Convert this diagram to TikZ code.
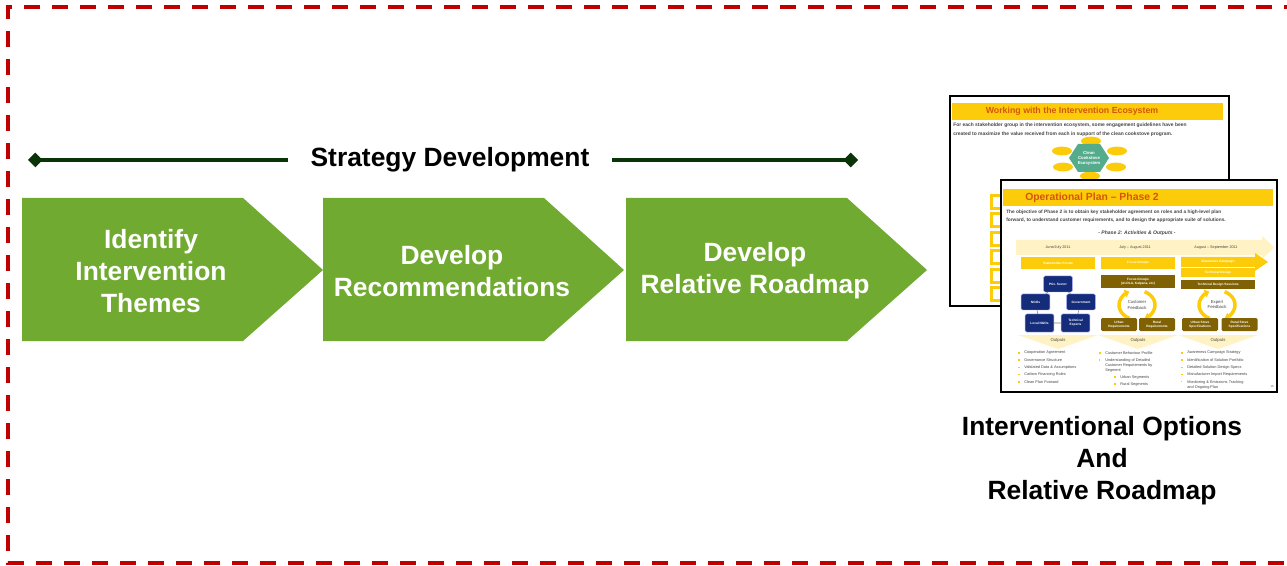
\documentclass[tikz,border=0pt]{standalone}
\usepackage{fontspec}
\setmainfont{Liberation Sans}
\usetikzlibrary{arrows.meta}
\definecolor{framered}{RGB}{192,0,0}
\definecolor{leafgreen}{RGB}{112,170,48}
\definecolor{darkline}{RGB}{8,52,8}
\definecolor{slideyellow}{RGB}{252,204,10}
\definecolor{paleyellow}{RGB}{255,242,196}
\definecolor{titleorange}{RGB}{214,84,10}
\definecolor{olivebox}{RGB}{128,98,4}
\definecolor{navybox}{RGB}{20,44,122}
\definecolor{ecoteal}{RGB}{84,172,140}
\definecolor{slidetext}{RGB}{70,70,70}
\begin{document}
\begin{tikzpicture}[x=0.75pt,y=-0.75pt,line join=miter]
	\tikzset{
		bigtext/.style={font=\bfseries\fontsize{19.8}{24}\selectfont,align=center},
		timeline/.style={darkline,line width=2.4pt,-{Diamond[length=11pt,width=11pt]}},
		stepshape/.style={fill=leafgreen},
		steptext/.style={bigtext,text=white},
		slideframe/.style={fill=white,draw=black,line width=1.5pt},
		slidebody/.style={font=\bfseries\fontsize{3.6}{6}\selectfont,text=slidetext,align=left,inner sep=0pt},
		tinytext/.style={font=\fontsize{2.8}{3.6}\selectfont,text=slidetext,inner sep=0pt,align=center},
		boxlabel/.style={font=\bfseries\fontsize{2.4}{2.9}\selectfont,text=white,align=center,inner sep=0pt},
		ybox/.style={boxlabel,fill=slideyellow,minimum width=55.5pt,minimum height=9pt},
		obox/.style={boxlabel,fill=olivebox,minimum width=55.5pt,minimum height=7pt},
		reqbox/.style={boxlabel,fill=olivebox,rounded corners=1pt,minimum width=27pt,minimum height=9.75pt},
		navy/.style={boxlabel,fill=navybox,draw=blue!35!white,line width=0.3pt,rounded corners=1pt,minimum width=21.5pt,minimum height=12pt},
		loop/.style={slideyellow,line width=2.6pt,-{Triangle[length=3.5pt,width=6pt]}},
		bulletsq/.style={fill=slideyellow,inner sep=0pt,minimum size=1.3pt},
		bul/.style={tinytext,font=\fontsize{2.9}{3.6}\selectfont,anchor=west,align=left,label={[bulletsq,label distance=3pt]left:}},
	}
	\useasboundingbox (0,0) rectangle (1287,566);
	% dashed frame, open to the right
	\draw[framered,line width=3pt,dash pattern=on 12pt off 9pt] (1300,7) -- (8,7) -- (8,563) -- (1300,563);
	
	% strategy development bar
	\node[bigtext,inner xsep=17pt] (sd) at (450,160) {Strategy Development};
	\coordinate (sdl) at (28,160);
	\coordinate (sdr) at (858,160);
	\draw[timeline] (sd.west) -- (sdl);
	\draw[timeline] (sd.east) -- (sdr);
	
	% the three steps
	\foreach \x/\name/\txt in {22/identify/{Identify\\Intervention\\Themes},323/recomm/{Develop\\Recommendations},626/roadmap/{Develop\\Relative Roadmap}}{
		\fill[stepshape] (\x,198) -- ++(221,0) -- ++(80,72) -- ++(-80,71) -- ++(-221,0) -- cycle;
		\node[steptext] (\name) at (\x+129,271) {\txt};
	}
	
	% back slide
	\filldraw[slideframe] (950,96) rectangle (1229,306);
	\fill[slideyellow] (952,103) rectangle (1223,120);
	\node[font=\bfseries\fontsize{6.6}{7}\selectfont,text=titleorange,inner sep=0pt] (wtitle) at (1072,111.5) {Working with the Intervention Ecosystem};
	\node[slidebody,font=\bfseries\fontsize{3.7}{6.75}\selectfont,anchor=west] (wbody) at (953,129.5) {For each stakeholder group in the intervention ecosystem, some engagement guidelines have been\\created to maximize the value received from each in support of the clean cookstove program.};
	\foreach \ex/\ey in {1091/141,1117/151,1116/167,1090/176,1063/167,1062/151}
		\fill[slideyellow] (\ex,\ey) ellipse [x radius=7.5pt,y radius=3.3pt];
	\fill[ecoteal] (1069,158) -- (1078,144) -- (1100,144) -- (1109,158) -- (1100,172) -- (1078,172) -- cycle;
	\node[boxlabel,font=\bfseries\fontsize{3.2}{3.8}\selectfont] (eco) at (1089,158) {Clean\\Cookstove\\Ecosystem};
	\foreach \sy in {194,212.5,231,249.5,268,286.5}{
		\fill[slideyellow] (990,\sy) rectangle (1004,\sy+16);
		\fill[white] (993,\sy+3) rectangle (1004,\sy+13);
	}
	
	% front slide
	\filldraw[slideframe] (1001,180) rectangle (1277,392);
	\fill[slideyellow] (1003,189) rectangle (1273,206);
	\node[font=\bfseries\fontsize{7.8}{8}\selectfont,text=titleorange,inner sep=0pt] (otitle) at (1092,197.5) {Operational Plan -- Phase 2};
	\node[slidebody,anchor=west] (obody) at (1006,216) {The objective of Phase 2 is to obtain key stakeholder agreement on roles and a high-level plan\\forward, to understand customer requirements, and to design the appropriate suite of solutions.};
	\node[slidebody,font=\bfseries\itshape\fontsize{3.8}{4}\selectfont] (osub) at (1137,233) {- Phase 2: Activities \& Outputs -};
	\fill[paleyellow] (1016,240) -- (1262,240) -- (1262,236) -- (1274,247.5) -- (1262,259) -- (1262,255) -- (1016,255) -- cycle;
	\node[tinytext] (d1) at (1058,248) {June/July 2011};
	\node[tinytext] (d2) at (1135,248) {July -- August 2011};
	\node[tinytext] (d3) at (1216,248) {August -- September 2011};
	
	\node[ybox] (forum) at (1058,263) {Stakeholder Forum};
	\node[ybox] (focus) at (1138,263) {Focus Groups};
	\fill[slideyellow] (1181,257) -- (1255,257) -- (1255,253) -- (1268,262) -- (1255,271) -- (1255,267) -- (1181,267) -- cycle;
	\node[boxlabel] (aware) at (1218,262) {Awareness Campaign};
	\node[ybox,minimum height=6.75pt] (techd) at (1218,273) {Technical Design};
	\node[obox] (techs) at (1218,284.5) {Technical Design Sessions};
	\node[obox,minimum height=9.75pt] (focus2) at (1138,281.5) {Focus Groups\\(ALOLA, Kalpana, etc)};
	
	% stakeholder network
	\node[navy] (priv) at (1058,284) {Priv. Sector};
	\node[navy] (ngo) at (1035.5,302) {NGOs};
	\node[navy] (gov) at (1081,302) {Government};
	\node[navy,minimum height=13.5pt] (lngo) at (1039.5,323) {Local NGOs};
	\node[navy,minimum height=13.5pt] (tech) at (1075.5,323) {Technical\\Experts};
	\draw[gray,line width=0.4pt] (priv) -- (ngo) (priv) -- (gov) (ngo) -- (lngo) (gov) -- (tech) (lngo) -- (tech);
	
	% feedback loops
	\node[tinytext,font=\fontsize{3.2}{3.8}\selectfont] (cfb) at (1137,305) {Customer\\Feedback};
	\node[tinytext,font=\fontsize{3.2}{3.8}\selectfont] (efb) at (1217,305) {Expert\\Feedback};
	\foreach \c in {cfb,efb}{
		\draw[loop] (\c) ++(245:13.5pt and 11pt) arc[start angle=245,end angle=115,x radius=13.5pt,y radius=11pt];
		\draw[loop] (\c) ++(65:13.5pt and 11pt) arc[start angle=65,end angle=-65,x radius=13.5pt,y radius=11pt];
	}
	\node[reqbox] (urq) at (1119,324.5) {Urban\\Requirements};
	\node[reqbox] (rrq) at (1157,324.5) {Rural\\Requirements};
	\node[reqbox] (uss) at (1200,324.5) {Urban Stove\\Specifications};
	\node[reqbox] (rss) at (1239.5,324.5) {Rural Stove\\Specifications};
	
	% outputs
	\foreach \a/\b/\n in {1018/1098/1,1098/1178/2,1178/1258/3}{
		\fill[paleyellow] (\a,335) -- (\b,335) -- ({(\a+\b)/2},349) -- cycle;
		\node[tinytext,font=\fontsize{3.2}{3.8}\selectfont] (out\n) at ({(\a+\b)/2},340.5) {Outputs};
	}
	\foreach \t [count=\i] in {Cooperation Agreement,Governance Structure,Validated Data \& Assumptions,Carbon Financing Roles,Clean Plan Forward}
		\node[bul] (oa\i) at (1024,{353+7.2*(\i-1)}) {\t};
	\node[bul] (ob1) at (1105,353) {Customer Behaviour Profile};
	\node[bulletsq] (ob2b) at (1099.5,360) {};
	\node[tinytext,font=\fontsize{2.9}{3.75}\selectfont,anchor=north west,align=left] (ob2) at (1105,358.5) {Understanding of Detailed\\Customer Requirements by\\Segment};
	\node[bul] (ob3) at (1120,377) {Urban Segments};
	\node[bul] (ob4) at (1120,384) {Rural Segments};
	\foreach \t [count=\i] in {Awareness Campaign Strategy,Identification of Solution Portfolio,Detailed Solution Design Specs,Manufacturer Import Requirements}
		\node[bul] (oc\i) at (1187,{353+7.2*(\i-1)}) {\t};
	\node[bulletsq] (oc5b) at (1181.5,381.5) {};
	\node[tinytext,font=\fontsize{2.9}{3.75}\selectfont,anchor=north west,align=left] (oc5) at (1187,380) {Monitoring \& Emissions Tracking\\and Ongoing Plan};
	\node[tinytext,font=\fontsize{2}{2.4}\selectfont] (pnum) at (1272,387) {15};
	
	% caption
	\node[bigtext] (caption) at (1102,461) {Interventional Options\\And\\Relative Roadmap};
\end{tikzpicture}
\end{document}
